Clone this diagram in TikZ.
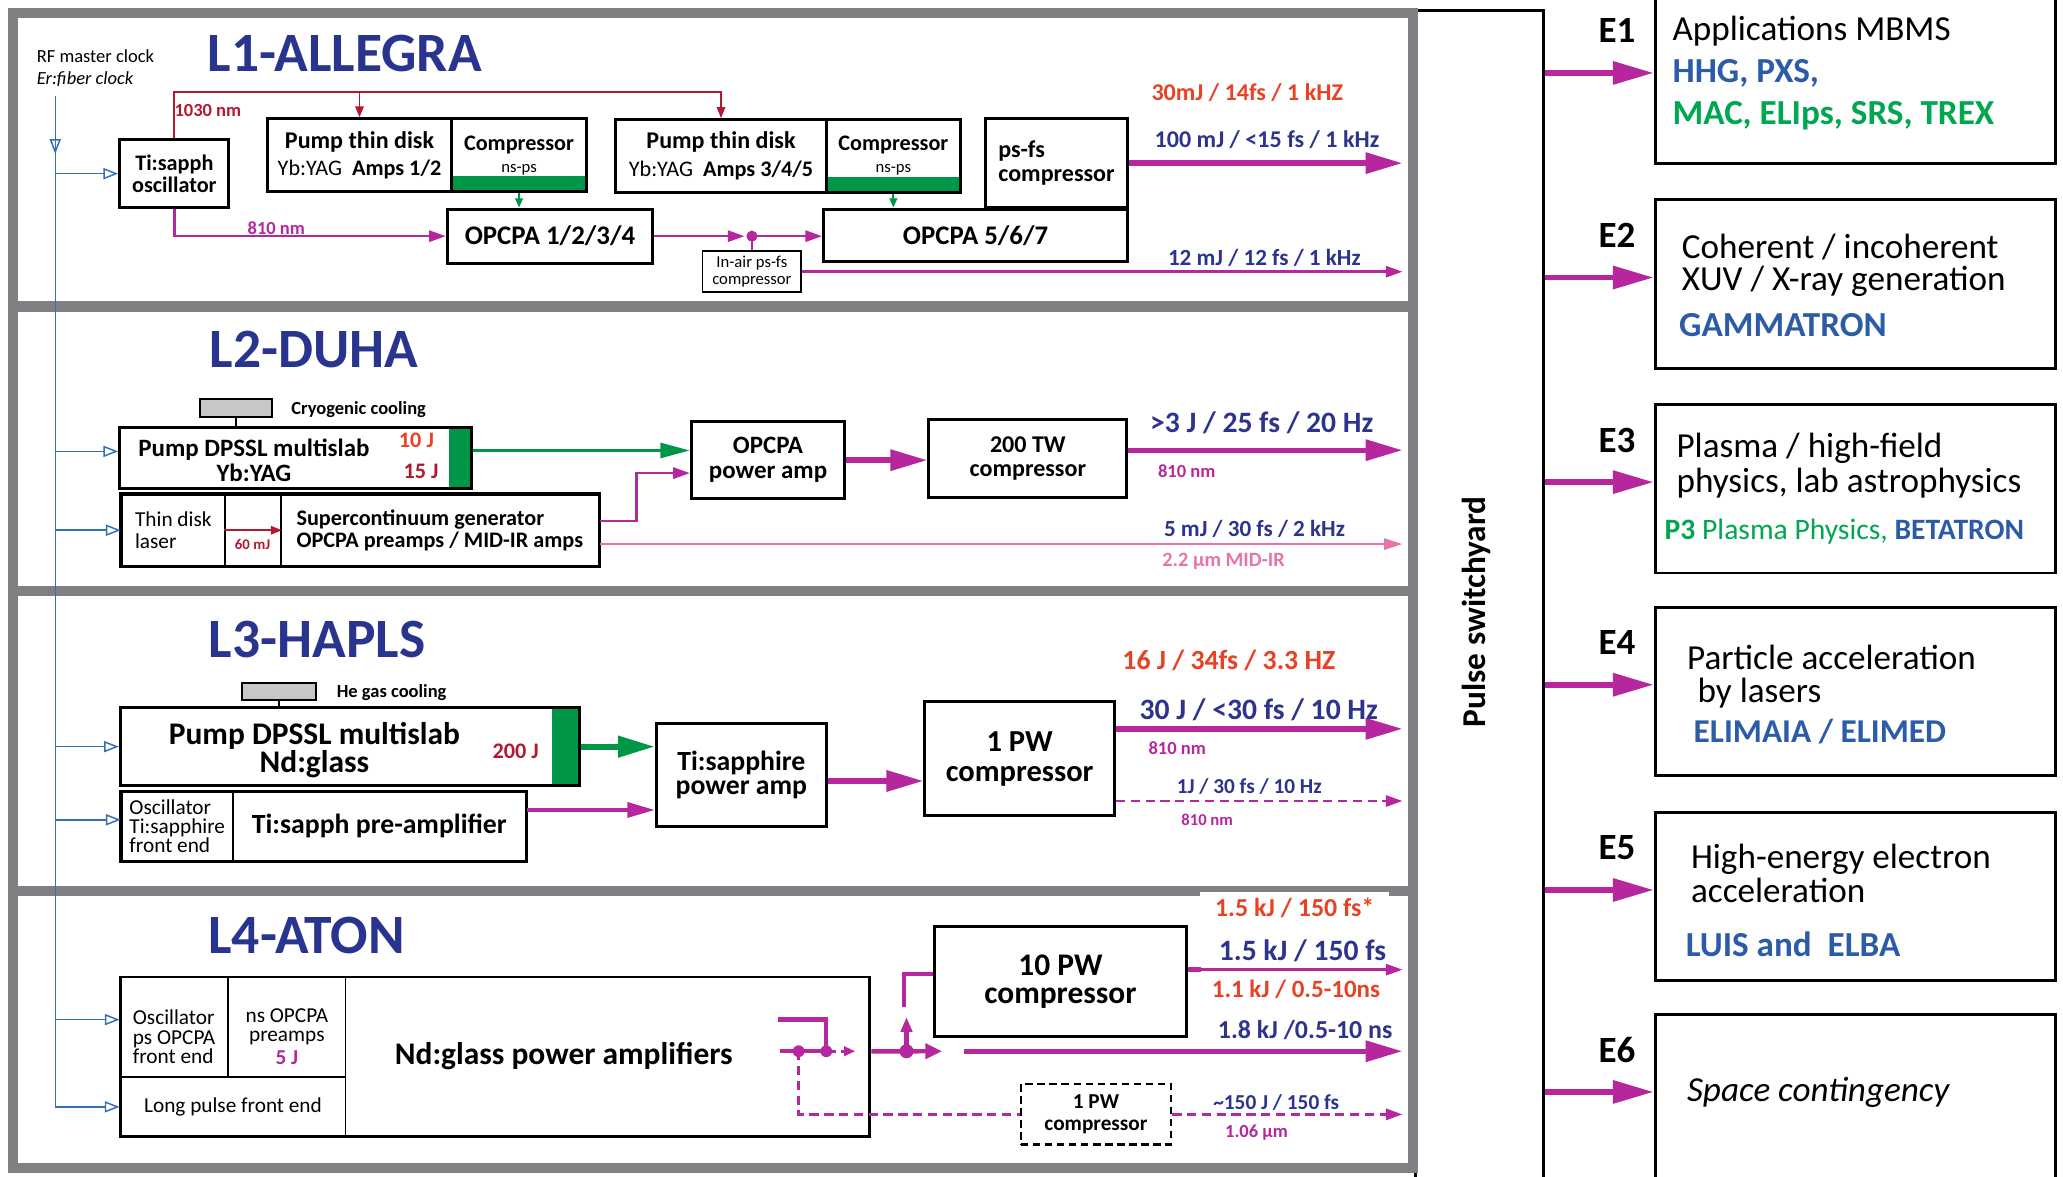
\documentclass[tikz,border=0pt]{standalone}
\usepackage{fontspec}
\setmainfont{Carlito}
\usetikzlibrary{arrows.meta}

\definecolor{baygray}{RGB}{128,128,132}
\definecolor{titlenavy}{RGB}{40,52,142}
\definecolor{specnavy}{RGB}{44,52,140}
\definecolor{beammag}{RGB}{182,38,156}
\definecolor{specred}{RGB}{232,66,36}
\definecolor{seedred}{RGB}{178,24,46}
\definecolor{pumpgreen}{RGB}{0,150,72}
\definecolor{clockblue}{RGB}{52,112,182}
\definecolor{mirpink}{RGB}{230,116,168}
\definecolor{expblue}{RGB}{44,92,168}
\definecolor{expgreen}{RGB}{0,166,80}

\newcommand{\fs}[1]{\fontsize{#1}{#1}\selectfont}

\begin{document}
\begin{tikzpicture}[
  x=0.025cm,y=-0.025cm,
  font=\fs{12},
  bay/.style={draw=baygray,line width=5.5pt},
  dev/.style={draw=black,line width=1.6pt,fill=white,align=center,
              inner sep=1pt,font=\bfseries\fs{13}},
  cell/.style={draw=black,line width=1pt,fill=white,align=left,
               inner sep=1pt,font=\fs{11.5}},
  cooler/.style={draw=black,line width=1pt,fill=black!22},
  greenfoot/.style={path picture={\fill[pumpgreen]
      ([yshift=#1]path picture bounding box.south west)
      rectangle (path picture bounding box.south east);}},
  greenside/.style={path picture={\fill[pumpgreen]
      ([xshift=-#1]path picture bounding box.north east)
      rectangle (path picture bounding box.south east);}},
  laser/.style={font=\bfseries\fs{30},text=titlenavy},
  spec/.style={font=\bfseries\fs{13},text=specnavy},
  note/.style={font=\bfseries\fs{10}},
  seed/.style={draw=seedred,line width=1pt,-{Triangle[length=6pt,width=4.5pt]}},
  beam/.style={draw=beammag,line width=1.4pt,-{Triangle[length=9pt,width=6pt]}},
  dashbeam/.style={draw=beammag,line width=1.5pt,dash pattern=on 5pt off 3pt},
  mirbeam/.style={draw=mirpink,line width=1.4pt,-{Triangle[length=10pt,width=6pt]}},
  midbeam/.style={draw=beammag,line width=2.2pt,-{Triangle[length=15pt,width=8pt]}},
  bigbeam/.style={draw=beammag,line width=2.9pt,-{Triangle[length=20pt,width=11pt]}},
  switch/.style={draw=beammag,line width=2.4pt},
  pumpline/.style={draw=pumpgreen,line width=1.2pt,-{Triangle[length=5pt,width=4pt]}},
  pumpbeam/.style={draw=pumpgreen,line width=1.9pt,-{Triangle[length=16pt,width=8pt]}},
  bigpump/.style={draw=pumpgreen,line width=3.4pt,-{Triangle[length=20pt,width=11pt]}},
  clock/.style={draw=clockblue,line width=0.8pt,-{Triangle[open,length=8pt,width=6pt]}},
  expbox/.style={draw=black,line width=1.6pt,minimum width=7.6cm,minimum height=3.2cm},
  expbeam/.style={draw=beammag,line width=3pt,-{Triangle[length=22pt,width=12pt]}},
  elabel/.style={font=\bfseries\fs{20}},
  exptext/.style={anchor=west,inner sep=0pt,font=\fs{19}}
]
  \useasboundingbox (0,0) rectangle (1568,894);

  % switchyard and the beamline bay
  \node[draw=black,line width=1.6pt,minimum width=2.425cm,minimum height=22.3cm]
    (swy) at (1124.5,454) {};
  \node[rotate=90,font=\bfseries\fs{18}] (swylbl) at (1122,465) {Pulse switchyard};
  \draw[bay] (10,10) rectangle (1074,888);
  \foreach \y in {233,449,677}
    \draw[bay] (10,\y)--(1074,\y);
  \coordinate (outx) at (1066,0);

  % L1
  \node[font=\fs{10},anchor=west] (rfclk) at (23,43) {RF master clock};
  \node[font=\itshape\fs{10},anchor=west] (erclk) at (23,60) {Er:fiber clock};
  \node[laser] (allegra) at (262,41) {L1-ALLEGRA};
  \node[dev,font=\bfseries\fs{12},minimum width=2.075cm,minimum height=1.3cm]
    (osc) at (132.5,132) {Ti:sapph\\oscillator};
  \node[dev,minimum width=3.49cm,minimum height=1.38cm] (pump1) at (273.25,118)
    {Pump thin disk\\[2pt]{\fs{12}\mdseries Yb:YAG\ \ \bfseries Amps 1/2}};
  \node[dev,greenfoot=0.29cm,font=\bfseries\fs{12},minimum width=2.575cm,
        minimum height=1.38cm] (comp1) at (394.5,118)
    {Compressor\\{\mdseries\fs{9}ns-ps}};
  \node[dev,minimum width=4.0cm,minimum height=1.375cm] (pump2) at (548,118.5)
    {Pump thin disk\\[2pt]{\fs{12}\mdseries Yb:YAG\ \ \bfseries Amps 3/4/5}};
  \node[dev,greenfoot=0.29cm,font=\bfseries\fs{12},minimum width=2.55cm,
        minimum height=1.375cm] (comp2) at (679,118.5)
    {Compressor\\{\mdseries\fs{9}ns-ps}};
  \node[dev,align=left,minimum width=2.7cm,minimum height=1.7cm]
    (psfs) at (803,124) {ps-fs\\compressor};
  \node[dev,font=\bfseries\fs{14.5},minimum width=3.9cm,minimum height=1.025cm]
    (opc1) at (418,179.5) {OPCPA 1/2/3/4};
  \node[dev,font=\bfseries\fs{14.5},minimum width=5.775cm,minimum height=1cm]
    (opc2) at (741.5,179) {OPCPA 5/6/7};
  \node[dev,line width=1pt,font=\fs{9},minimum width=1.875cm,minimum height=0.775cm]
    (inair) at (571.5,206.5) {In-air ps-fs\\compressor};

  \draw[seed] (osc.north) -- ++(0,-35) coordinate (seedtop) -| (pump2.north);
  \draw[seed] (seedtop -| pump1.north) -- (pump1.north);
  \node[note,text=seedred] (nm1030) at (158,84) {1030 nm};
  \draw[beam] (osc.south) |- (opc1.west);
  \node[note,text=beammag] (nm810a) at (210,173.5) {810 nm};
  \draw[pumpline] (comp1.south) -- (comp1.south |- opc1.north);
  \draw[pumpline] (comp2.south) -- (comp2.south |- opc2.north);
  \coordinate (tap) at (inair.north |- opc1.east);
  \draw[beam,shorten >=4pt] (opc1.east) -- (tap);
  \draw[beam] (tap) -- (tap -| opc2.west);
  \draw[beammag,line width=1.4pt] (tap) -- (inair.north);
  \fill[beammag] (tap) circle (3pt);
  \draw[beam] (inair.east) -- (inair.east -| outx);
  \draw[bigbeam] (psfs.east) -- (psfs.east -| outx);
  \node[spec,text=specred] (o1r) at (948,70.5) {30mJ / 14fs / 1 kHZ};
  \node[spec] (o1a) at (963,106) {100 mJ / <15 fs / 1 kHz};
  \node[spec,font=\bfseries\fs{12.5}] (o1b) at (961,196) {12 mJ / 12 fs / 1 kHz};

  % L2
  \node[laser] (duha) at (238.5,266) {L2-DUHA};
  \node[cooler,minimum width=1.375cm,minimum height=0.35cm] (cryo) at (179.5,310) {};
  \node[note,anchor=west] (cryolbl) at (216.5,311.6) {Cryogenic cooling};
  \node[dev,greenside=0.425cm,minimum width=6.675cm,minimum height=1.15cm]
    (dpssl2) at (224.5,348) {};
  \draw[line width=1.4pt] (cryo.south) -- (cryo.south |- dpssl2.north);
  \node[font=\bfseries\fs{13.5},align=center] (dpssl2t) at (193,349.5)
    {Pump DPSSL multislab\\Yb:YAG};
  \node[font=\bfseries\fs{12},text=specred] (j10) at (316.5,334.4) {10 J};
  \node[font=\bfseries\fs{12},text=seedred] (j15) at (320,358) {15 J};
  \node[cell,minimum width=1.9625cm,minimum height=1.35cm] (tdla) at (131.75,403)
    {Thin disk\\laser};
  \node[cell,minimum width=1.065cm,minimum height=1.35cm] (tdlb) at (192.3,403) {};
  \node[cell,font=\bfseries\fs{12},minimum width=6.035cm,minimum height=1.35cm]
    (tdlc) at (334.3,403)
    {Supercontinuum generator\\OPCPA preamps / MID-IR amps};
  \draw[line width=1.6pt] (tdla.north west) rectangle (tdlc.south east);
  \draw[seed] (tdlb.west) -- (tdlb.east);
  \node[font=\bfseries\fs{8},text=seedred] (mj60) at (192,414) {60 mJ};
  \node[dev,font=\bfseries\fs{13.5},minimum width=2.9125cm,minimum height=1.4625cm]
    (opa2) at (583.75,349.75) {OPCPA\\power amp};
  \node[dev,minimum width=3.7625cm,minimum height=1.475cm]
    (tw200) at (781.25,348.5) {200 TW\\compressor};

  \coordinate (g2) at ([yshift=4pt]dpssl2.east);
  \draw[pumpbeam] (g2) -- (g2 -| opa2.west);
  \coordinate (s2) at ([yshift=5pt]tdlc.east);
  \draw[beam] (s2) -- ++(28,0) |- ([yshift=-7pt]opa2.west);
  \coordinate (s3) at ([yshift=-7.5pt]tdlc.east);
  \draw[mirbeam] (s3) -- (s3 -| outx);
  \draw[bigbeam] (opa2.east) -- (opa2.east -| tw200.west);
  \coordinate (o2) at ([yshift=4.5pt]tw200.east);
  \draw[bigbeam] (o2) -- (o2 -| outx);
  \node[spec,font=\bfseries\fs{16}] (o2a) at (959,321.6) {>3 J / 25 fs / 20 Hz};
  \node[note,text=beammag] (nm810b) at (902,358) {810 nm};
  \node[spec,font=\bfseries\fs{12.5}] (o2b) at (953.5,402) {5 mJ / 30 fs / 2 kHz};
  \node[font=\bfseries\fs{11},text=mirpink] (o2c) at (930,427) {2.2 µm MID-IR};

  % L3
  \node[laser] (hapls) at (241,486) {L3-HAPLS};
  \node[cooler,minimum width=1.4cm,minimum height=0.325cm] (hecool) at (212,525.5) {};
  \node[note,anchor=west] (hecoollbl) at (251,526.5) {He gas cooling};
  \node[dev,greenside=0.525cm,minimum width=8.725cm,minimum height=1.475cm]
    (dpssl3) at (266,567.5) {};
  \draw[line width=1.4pt] (hecool.south) -- (hecool.south |- dpssl3.north);
  \node[font=\bfseries\fs{17},align=center] (dpssl3t) at (239,570)
    {Pump DPSSL multislab\\[-2pt]Nd:glass};
  \node[font=\bfseries\fs{12},text=seedred] (j200) at (392,571) {200 J};
  \node[cell,minimum width=2.1125cm,minimum height=1.3cm] (osc3a) at (134.75,628)
    {Oscillator\\[-1pt]Ti:sapphire\\[-1pt]front end};
  \node[cell,font=\bfseries\fs{15},minimum width=5.565cm,minimum height=1.3cm]
    (osc3b) at (288.3,628) {Ti:sapph pre-amplifier};
  \draw[line width=1.6pt] (osc3a.north west) rectangle (osc3b.south east);
  \node[dev,font=\bfseries\fs{15},minimum width=3.225cm,minimum height=1.96cm]
    (tsamp) at (563.5,588.8) {Ti:sapphire\\[-2pt]power amp};
  \node[dev,font=\bfseries\fs{16.5},minimum width=3.6cm,minimum height=2.1625cm]
    (pw1) at (775,576.75) {1 PW\\compressor};

  \draw[bigpump] (dpssl3.east) -- (dpssl3.east -| tsamp.west);
  \coordinate (s4) at ([yshift=8.8pt]osc3b.east);
  \draw[midbeam] (s4) -- (s4 -| tsamp.west);
  \coordinate (t3) at ([yshift=-3.4pt]tsamp.east);
  \draw[bigbeam] (t3) -- (t3 -| pw1.west);
  \coordinate (o3a) at ([yshift=16.2pt]pw1.east);
  \draw[bigbeam] (o3a) -- (o3a -| outx);
  \coordinate (o3b) at ([yshift=-22.8pt]pw1.east);
  \draw[dashbeam,-{Triangle[length=9pt,width=6pt]}] (o3b) -- (o3b -| outx);
  \node[spec,text=specred,font=\bfseries\fs{15}] (o3r) at (934,502) {16 J / 34fs / 3.3 HZ};
  \node[spec,font=\bfseries\fs{16}] (o3t) at (956.75,539.6) {30 J / <30 fs / 10 Hz};
  \node[note,text=beammag] (o3n) at (894.75,569) {810 nm};
  \node[spec,font=\bfseries\fs{11.5}] (o3d) at (949.5,598) {1J / 30 fs / 10 Hz};
  \node[note,text=beammag,font=\bfseries\fs{9}] (o3m) at (917.5,623) {810 nm};

  % L4
  \node[laser] (atonttl) at (233,711) {L4-ATON};
  \node[cell,minimum width=2.035cm,minimum height=1.9cm] (c4a) at (132.3,780.6) {};
  \node[cell,minimum width=2.24cm,minimum height=1.9cm] (c4b) at (217.8,780.6) {};
  \node[cell,minimum width=4.275cm,minimum height=1.135cm] (c4c) at (177.1,841.3)
    {Long pulse front end};
  \node[font=\fs{11.5},align=left] (c4at) at (132.3,788)
    {Oscillator\\[-1pt]ps OPCPA\\[-1pt]front end};
  \node[font=\fs{11.5},align=center] (c4bt) at (218,788)
    {ns OPCPA\\[-1pt]preamps\\[1pt]{\bfseries\color{beammag}5 J}};
  \node[dev,fill=none,minimum width=14.235cm,minimum height=3.035cm]
    (aton) at (376.3,803.3) {};
  \node[font=\bfseries\fs{17}] (atontxt) at (428.5,803) {Nd:glass power amplifiers};
  \node[dev,font=\bfseries\fs{17},minimum width=4.8cm,minimum height=2.1cm]
    (pw10) at (806,746) {10 PW\\[-2pt]compressor};
  \node[dev,dash pattern=on 4pt off 2.5pt,line width=1.4pt,font=\bfseries\fs{11.5},
        minimum width=2.85cm,minimum height=1.15cm] (pw1d) at (833,847)
    {1 PW\\compressor};

  \coordinate (sw0) at (591,775);
  \coordinate (sw1) at (628,775);
  \coordinate (sw2) at (628,799);
  \coordinate (sw3) at (607,799);
  \coordinate (sw4) at (593,799);
  \coordinate (sw5) at (650,799);
  \draw[switch] (sw0) -- (sw1) -- (sw2);
  \draw[switch] (sw4) -- (sw2);
  \draw[switch,line width=1.6pt,dash pattern=on 5pt off 3pt,
        -{Triangle[length=6pt,width=5pt]}] (sw2) -- (sw5);
  \draw[dashbeam] (sw3) |- (pw1d.west);
  \fill[beammag] (sw3) circle (3.2pt) (sw2) circle (3.2pt);

  \coordinate (a4) at ([yshift=3pt]aton.east);
  \coordinate (sw6) at (689,799);
  \coordinate (sw7) at (716,799);
  \coordinate (sw8) at (689,773);
  \coordinate (sw9) at (687,765);
  \coordinate (a5) at (733,799);
  \draw[switch,-{Triangle[length=9pt,width=8pt]}] (a4) -- (sw7);
  \draw[switch,-{Triangle[length=8pt,width=6pt]}] (sw6) -- (sw8);
  \fill[beammag] (sw6) circle (3.8pt);
  \draw[switch] (sw9) |- ([yshift=4pt]pw10.west);
  \draw[bigbeam] (a5) -- (a5 -| outx);
  \coordinate (p10o) at ([yshift=6.4pt]pw10.east);
  \draw[beammag,line width=3pt] (p10o) -- ++(10,0);
  \draw[beam] (p10o) -- (p10o -| outx);
  \draw[dashbeam,-{Triangle[length=9pt,width=6pt]}] (pw1d.east) -- (pw1d.east -| outx);

  \node[spec,text=specred,font=\bfseries\fs{14},fill=white,minimum width=3.6cm,
        minimum height=0.6cm] (o4r) at (984,690) {1.5 kJ / 150 fs*};
  \node[spec,font=\bfseries\fs{16}] (o4a) at (990,723) {1.5 kJ / 150 fs};
  \node[spec,text=specred,font=\bfseries\fs{13.5}] (o4b) at (985,752) {1.1 kJ / 0.5-10ns};
  \node[spec,font=\bfseries\fs{14}] (o4c) at (992,783) {1.8 kJ /0.5-10 ns};
  \node[spec,font=\bfseries\fs{11.5}] (o4d) at (970,838) {\textasciitilde 150 J / 150 fs};
  \node[note,text=beammag] (o4e) at (955,861) {1.06 µm};

  % RF clock distribution
  \coordinate (clktop) at (42,73);
  \coordinate (clkmark) at (42,117);
  \draw[clock] (clktop) |- (c4c.west);
  \draw[clock] (clktop) -- (clkmark);
  \coordinate (ck2) at ([yshift=3.5pt]dpssl2.west);
  \coordinate (ck3) at ([yshift=3.5pt]osc3a.west);
  \coordinate (ck4) at ([yshift=4pt]c4a.west);
  \foreach \p in {osc.west,ck2,tdla.west,dpssl3.west,ck3,ck4}
    \draw[clock] (clktop |- \p) -- (\p);

  % experimental halls
  \foreach \i/\yc in {1/60.5,2/216,3/371.5,4/525.5,5/681.5,6/835}{
    \node[expbox] (e\i) at (1410,\yc) {};
    \node[elabel] (le\i) at (1229,\yc-37) {E\i};
    \coordinate (ea\i) at ([yshift=3.6pt]e\i.west);
    \draw[expbeam] (ea\i -| swy.east) -- (ea\i);
  }
  \node[exptext] (e1a) at (1271,24) {Applications MBMS};
  \node[exptext,font=\bfseries\fs{19},text=expblue] (e1b) at (1271,56) {HHG, PXS,};
  \node[exptext,font=\bfseries\fs{19},text=expgreen] (e1c) at (1271,88)
    {MAC, ELIps, SRS, TREX};
  \node[exptext] (e2a) at (1278,188) {Coherent / incoherent};
  \node[exptext] (e2b) at (1278,214) {XUV / X-ray generation};
  \node[exptext,font=\bfseries\fs{19},text=expblue] (e2c) at (1276,247) {GAMMATRON};
  \node[exptext] (e3a) at (1274,341) {Plasma / high-field};
  \node[exptext] (e3b) at (1274,367) {physics, lab astrophysics};
  \node[exptext,font=\fs{16},text=expgreen] (e3c) at (1265,404)
    {\textbf{P3} Plasma Physics, \textbf{\color{expblue}BETATRON}};
  \node[exptext] (e4a) at (1282,500) {Particle acceleration};
  \node[exptext] (e4b) at (1290,527) {by lasers};
  \node[exptext,font=\bfseries\fs{18},text=expblue] (e4c) at (1287,556) {ELIMAIA / ELIMED};
  \node[exptext] (e5a) at (1285,653) {High-energy electron};
  \node[exptext] (e5b) at (1285,677) {acceleration};
  \node[exptext,font=\bfseries\fs{19},text=expblue] (e5c) at (1281,718) {LUIS and\ \ ELBA};
  \node[exptext,font=\itshape\fs{19}] (e6a) at (1282,830) {Space contingency};
\end{tikzpicture}
\end{document}
